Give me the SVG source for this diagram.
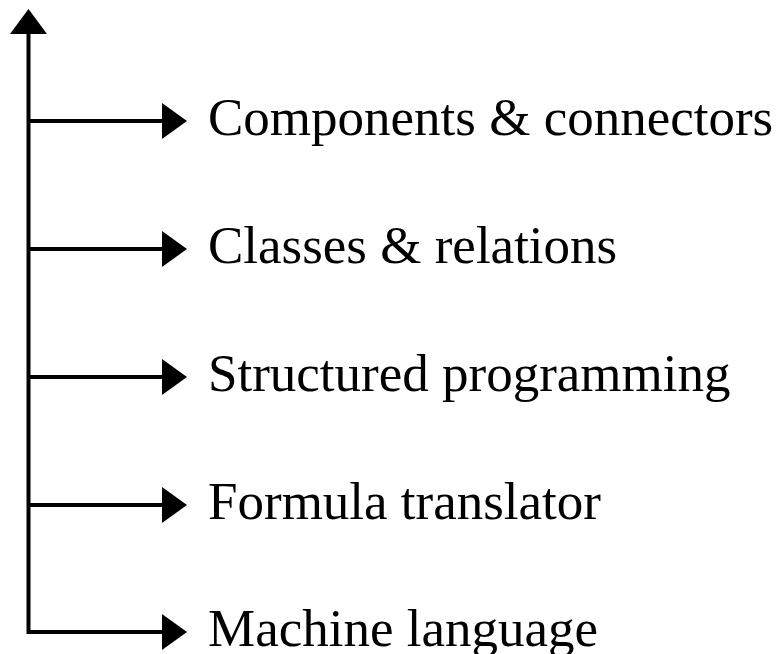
<svg xmlns="http://www.w3.org/2000/svg" width="780" height="654" viewBox="0 0 780 654">
<style>
.l{stroke:#000;stroke-width:4;fill:none}
.t{font-family:"Liberation Serif","Times New Roman",serif;font-size:53px;fill:#000}
</style>
<defs>
<polygon id="ah" points="0,-18 25,0 0,18" fill="#000"/>
</defs>
<rect width="780" height="654" fill="#fff"/>
<g id="connectors">
<path class="l" d="M28.5,32 V632 H165"/>
<polygon points="28.5,9 47,34 10,34" fill="#000"/>
<path class="l" d="M28.5,121 H165"/>
<path class="l" d="M28.5,249 H165"/>
<path class="l" d="M28.5,377 H165"/>
<path class="l" d="M28.5,505 H165"/>
<use href="#ah" x="162" y="121"/>
<use href="#ah" x="162" y="249"/>
<use href="#ah" x="162" y="377"/>
<use href="#ah" x="162" y="505"/>
<use href="#ah" x="162" y="632"/>
</g>
<g id="n1"><text class="t" x="208" y="135">Components &amp; connectors</text></g>
<g id="n2"><text class="t" x="208" y="263">Classes &amp; relations</text></g>
<g id="n3"><text class="t" x="208" y="391">Structured programming</text></g>
<g id="n4"><text class="t" x="208" y="519">Formula translator</text></g>
<g id="n5"><text class="t" x="208" y="646">Machine language</text></g>
</svg>
